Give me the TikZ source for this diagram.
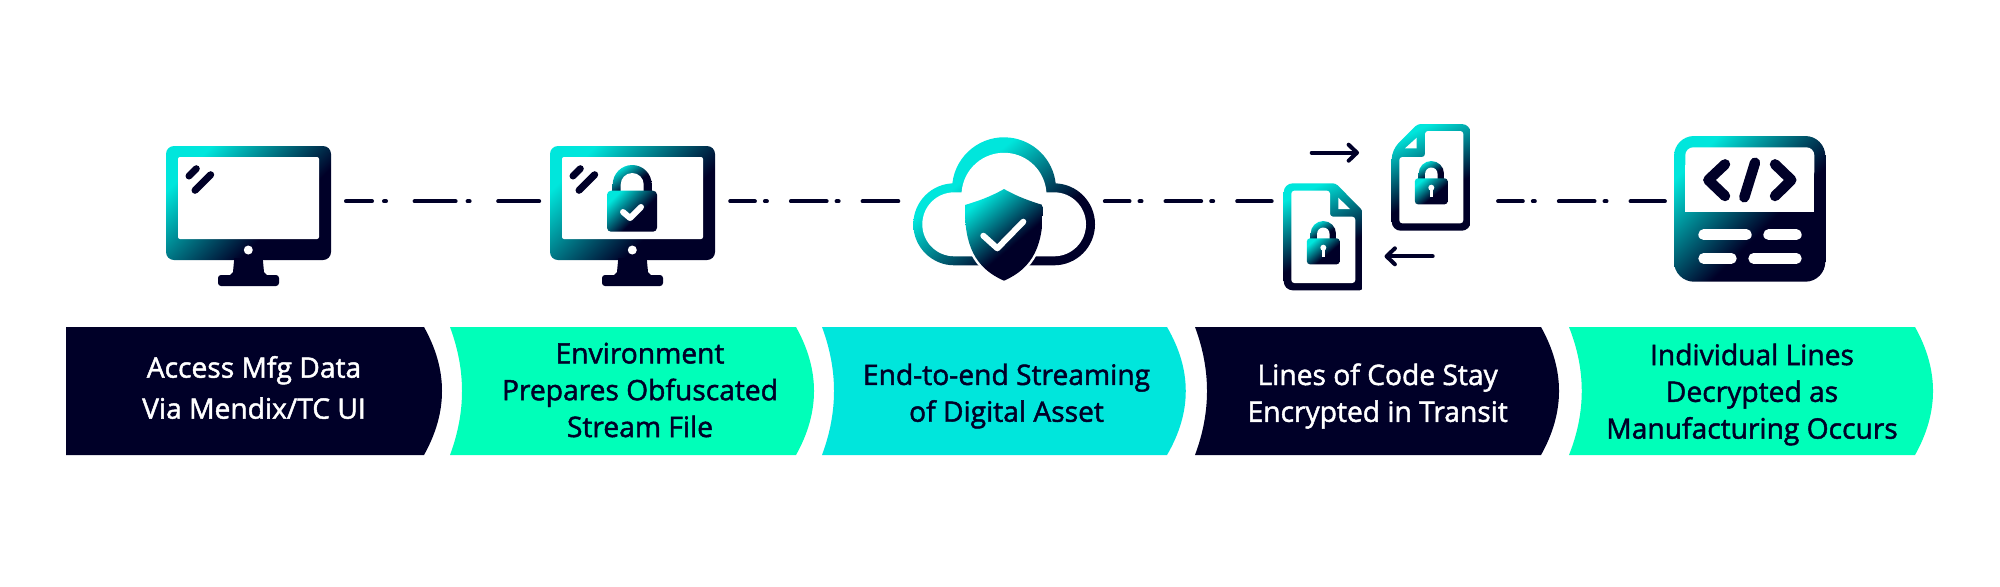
\documentclass[tikz,border=0pt]{standalone}
\usepackage{fontspec}
\setmainfont[FakeBold=1.6]{Open Sans}
\usetikzlibrary{arrows.meta}
\definecolor{navy}{HTML}{000028}
\definecolor{mint}{HTML}{00FFB9}
\definecolor{aqua}{HTML}{00E6DC}
\pgfdeclareverticalshading{iconfade}{100bp}{rgb(0bp)=(0,0,0.157); rgb(25bp)=(0,0,0.157); rgb(42bp)=(0,0,0.157); rgb(75bp)=(0,0.902,0.863); rgb(100bp)=(0,0.902,0.863)}
\pgfdeclareverticalshading{cloudfade}{100bp}{rgb(0bp)=(0,0,0.157); rgb(25bp)=(0,0,0.157); rgb(36bp)=(0,0,0.157); rgb(64bp)=(0,0.902,0.863); rgb(100bp)=(0,0.902,0.863)}
\tikzset{
  banner/.style={draw=none},
  bannertext/.style={font=\fontsize{14.1pt}{18.4pt}\selectfont,align=center,inner sep=0pt,outer sep=0pt},
  iconframe/.style={inner sep=0pt,outer sep=0pt,minimum height=10pt,draw=none,fill=none},
  flowsmall/.style={draw=navy,line width=2pt,line cap=round,dash pattern=on 35.7*0.5pt off 10*0.5pt on 2*0.5pt off 24*0.5pt,dash phase=11*0.5pt},
  flowlarge/.style={draw=navy,line width=2pt,line cap=round,dash pattern=on 41*0.5pt off 12*0.5pt on 2*0.5pt off 28.6*0.5pt,dash phase=15*0.5pt},
  markstroke/.style={draw=navy,line cap=round,line join=round,line width=3.5pt},
  tickwhite/.style={draw=white,line cap=round,line join=round},
  swaparrow/.style={draw=navy,line width=2pt,line cap=round,-{Straight Barb[length=4.2pt,width=8pt,line width=2pt,round]}},
  fadeshade/.style={shading=iconfade,shading angle=#1}
}
\newcommand{\fadeshape}[3]{% path, shade box, angle
  \begin{scope}\clip #1; \shade[fadeshade=#3] #2; \end{scope}}
\newcommand{\monitorbody}{%
  \fadeshape{[rounded corners=4pt] (166,146) rectangle (331,260)}{(166,146) rectangle (331,286)}{45}
  \fill[navy] (234.3,258) -- (262.7,258) -- (264,272) -- (268,276) -- (229,276) -- (233,272) -- cycle;
  \fill[navy,rounded corners=1.5pt] (218,275) rectangle (279,286);
  \fill[white,rounded corners=1pt] (178,157) rectangle (319,239);
  \fill[white] (248.3,250) circle[radius=4.5];
  \draw[markstroke] (189,176) -- (196.3,168.7);
  \draw[markstroke] (195,190.3) -- (210.7,174.7);
}
\newcommand{\doclock}[2]{% centre x, top of shackle
  \begin{scope}[shift={(#1,#2)}]
    \fadeshape{(-12.7,18) -- (-12.7,12.7) arc[start angle=180,end angle=360,radius=12.7] -- (12.7,18) -- cycle}{(-12.7,0) rectangle (12.7,20)}{30}
    \fill[white] (-6.2,18) -- (-6.2,12.7) arc[start angle=180,end angle=360,radius=6.2] -- (6.2,18) -- cycle;
    \fadeshape{[rounded corners=1.5pt] (-16.4,17.3) rectangle (16.4,43.3)}{(-16.4,17.3) rectangle (16.4,43.3)}{40}
    \fill[white] (0,26.7) circle[radius=3];
    \fill[white] (-1.8,27) -- (1.8,27) -- (1.8,35.7) -- (-1.8,35.7) -- cycle;
  \end{scope}
}
\begin{document}
\begin{tikzpicture}[x=0.5pt,y=-0.5pt]
\useasboundingbox (0,0) rectangle (2000,586);
\fill[white] (0,0) rectangle (2000,586);

% invisible frames of the icons, centred on the connector line
\node[iconframe,minimum width=82.5pt] (icon1) at (248.5,201.3) {};
\node[iconframe,minimum width=82pt] (icon2) at (632.2,201.3) {};
\node[iconframe,minimum width=91pt] (icon3) at (1004,201.3) {};
\node[iconframe,minimum width=93.5pt] (icon4) at (1377.2,201.3) {};
\node[iconframe,minimum width=75.6pt] (icon5) at (1749.7,201.3) {};

% connectors
\draw[flowlarge,shorten <=7.5pt,shorten >=2.6pt] (icon1.east) -- (icon2.west);
\draw[flowsmall,shorten <=8pt,shorten >=7pt] (icon2.east) -- (icon3.west);
\draw[flowsmall,shorten <=4.9pt,shorten >=6pt] (icon3.east) -- (icon4.west);
\draw[flowsmall,shorten <=13.7pt,shorten >=4.6pt] (icon4.east) -- (icon5.west);

% icon 1: monitor
\monitorbody

% icon 2: monitor with lock
\begin{scope}[shift={(384,0)}]
  \monitorbody
\end{scope}
\fadeshape{(612.7,191.5) -- (612.7,184.5) arc[start angle=180,end angle=360,radius=19.5] -- (651.7,191.5) -- cycle}{(612.7,165) rectangle (651.7,192)}{35}
\fill[white] (620.7,191.5) -- (620.7,184.5) arc[start angle=180,end angle=360,radius=11.5] -- (643.7,191.5) -- cycle;
\fadeshape{[rounded corners=2pt] (607,190.7) rectangle (657,231.7)}{(607,190.7) rectangle (657,231.7)}{45}
\draw[tickwhite,line width=3pt] (623,212) -- (630,218) -- (641,207);

% icon 3: cloud with shield
\begin{scope}
  \clip (954.3,265.3) arc[start angle=90,end angle=270,radius=41] -- (952.35,183.3) arc[start angle=186.6,end angle=353.4,radius=52] -- (1054,183.3) arc[start angle=270,end angle=450,radius=41] -- cycle;
  \shade[shading=cloudfade,shading angle=39] (913,137) rectangle (1095,265.3);
\end{scope}
\fill[white] (954.3,256.3) arc[start angle=90,end angle=270,radius=32] -- (961.6,192.3) arc[start angle=184,end angle=356,radius=42.5] -- (1054,192.3) arc[start angle=270,end angle=450,radius=32] -- cycle;
\draw[white,line width=2.5pt,fill=white] (1004,189) .. controls (990,197) and (978,201) .. (965,205) .. controls (964,245) and (975,268) .. (1004,280.7) .. controls (1033,268) and (1044,245) .. (1042.7,205) .. controls (1030,201) and (1018,197) .. (1004,189) -- cycle;
\fadeshape{(1004,189) .. controls (990,197) and (978,201) .. (965,205) .. controls (964,245) and (975,268) .. (1004,280.7) .. controls (1033,268) and (1044,245) .. (1042.7,205) .. controls (1030,201) and (1018,197) .. (1004,189) -- cycle}{(965,189) rectangle (1042.7,280.7)}{40}
\draw[tickwhite,line width=3pt] (983.3,235.7) -- (997.3,248.3) -- (1023.3,221.7);

% icon 4: two locked files and arrows
\fadeshape{[rounded corners=1.5pt] (1391.7,150) -- (1417.7,124) [rounded corners=4.5pt] -- (1470.7,124) -- (1470.7,230.7) -- (1391.7,230.7) -- cycle}{(1391.7,124) rectangle (1470.7,230.7)}{25}
\fill[white,rounded corners=1.5pt] (1399.3,157) -- (1425,157) -- (1425,131) -- (1463.3,131) -- (1463.3,223.3) -- (1399.3,223.3) -- cycle;
\fill[white] (1405,148.3) -- (1416.7,137.7) -- (1416.7,148.3) -- cycle;
\doclock{1431.3}{161}
\fadeshape{[rounded corners=4.5pt] (1362.7,290.3) -- (1283.7,290.3) -- (1283.7,183.3) [rounded corners=1.5pt] -- (1335.7,183.3) -- (1362.7,210.7) -- cycle}{(1283.7,183.3) rectangle (1362.7,290.3)}{25}
\fill[white,rounded corners=1.5pt] (1291.3,190.7) -- (1330,190.7) -- (1330,216.7) -- (1355.3,216.7) -- (1355.3,283) -- (1291.3,283) -- cycle;
\fill[white] (1338.3,197.7) -- (1350,209) -- (1338.3,209) -- cycle;
\doclock{1323.3}{221}
\coordinate (arrAs) at (1311.7,152.7);
\coordinate (arrAe) at (1359,152.7);
\coordinate (arrBs) at (1432.7,256.3);
\coordinate (arrBe) at (1384.5,256.3);
\draw[swaparrow] (arrAs) -- (arrAe);
\draw[swaparrow] (arrBs) -- (arrBe);

% icon 5: code window
\fadeshape{[rounded corners=10pt] (1674,136) rectangle (1825.3,281.7)}{(1674,136) rectangle (1825.3,281.7)}{45}
\fill[white,rounded corners=4pt] (1685.3,147.3) -- (1814.3,147.3) -- (1814.3,180) -- (1685.3,180) -- cycle;
\fill[white] (1685.3,165) rectangle (1814.3,212);
\draw[markstroke,line width=5.2pt] (1725,164.3) -- (1708.3,180) -- (1725,196);
\draw[markstroke,line width=5.2pt] (1755,162.7) -- (1744.3,197.3);
\draw[markstroke,line width=5.2pt] (1775,164.3) -- (1791.3,180) -- (1775,196);
\draw[white,line width=5.3pt,line cap=round] (1703.6,234.7) -- (1746.4,234.7);
\draw[white,line width=5.3pt,line cap=round] (1768.6,234.7) -- (1796.4,234.7);
\draw[white,line width=5.3pt,line cap=round] (1703.6,258.3) -- (1731.4,258.3);
\draw[white,line width=5.3pt,line cap=round] (1753.6,258.3) -- (1796.4,258.3);

% banners
\fill[banner,navy] (66,327) -- (424,327) .. controls (448,370) and (448,412) .. (424,455) -- (66,455) -- cycle;
\fill[banner,mint] (450,327) -- (796,327) .. controls (820,370) and (820,412) .. (796,455) -- (450,455) .. controls (466,412) and (466,370) .. (450,327) -- cycle;
\fill[banner,aqua] (822,327) -- (1167,327) .. controls (1192,370) and (1192,412) .. (1167,455) -- (822,455) .. controls (838,412) and (838,370) .. (822,327) -- cycle;
\fill[banner,navy] (1195,327) -- (1541,327) .. controls (1565,370) and (1565,412) .. (1541,455) -- (1195,455) .. controls (1211,412) and (1211,370) .. (1195,327) -- cycle;
\fill[banner,mint] (1569,327) -- (1915,327) .. controls (1939,370) and (1939,412) .. (1915,455) -- (1569,455) .. controls (1586,412) and (1586,370) .. (1569,327) -- cycle;

\node[bannertext,text=white,font=\fontsize{14.1pt}{20.5pt}\selectfont] (t1) at (254,387.5) {Access Mfg Data\\Via Mendix/TC UI};
\node[bannertext,text=navy] (t2) at (640,390) {Environment\\Prepares Obfuscated\\Stream File};
\node[bannertext,text=navy] (t3) at (1006.5,396) {End-to-end Streaming\\of Digital Asset};
\node[bannertext,text=white] (t4) at (1377.7,396) {Lines of Code Stay\\Encrypted in Transit};
\node[bannertext,text=navy] (t5) at (1752,394.5) {Individual Lines\\Decrypted as\\Manufacturing Occurs};
\end{tikzpicture}
\end{document}
